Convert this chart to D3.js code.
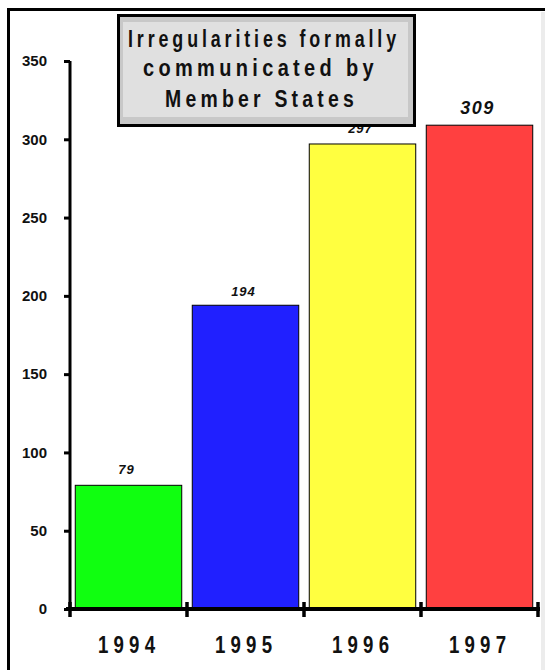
<!DOCTYPE html>
<html>
<head>
<meta charset="utf-8">
<script src="https://cdn.jsdelivr.net/npm/d3@7"></script>
<style>
  body { margin: 0; background: #fff; }
  svg { display: block; font-family: "Liberation Sans", Arial, sans-serif; }
</style>
</head>
<body>
<svg id="chart" width="545" height="670"></svg>
<script>
"use strict";

// chart data
var years = ["1994", "1995", "1996", "1997"];
var counts = [79, 194, 297, 309];
var barColors = ["#10ff10", "#2020ff", "#ffff40", "#ff4040"];
var yTicks = [0, 50, 100, 150, 200, 250, 300, 350];
var titleLines = ["Irregularities formally", "communicated by", "Member States"];

var svg = d3.select("#chart");

// outer frame (only top and left are dark)
svg.append("rect")
    .attr("x", 541).attr("y", 12).attr("width", 4).attr("height", 658)
    .attr("fill", "#ececec");
svg.append("path")
    .attr("d", "M8.5,670 V9.5 H545")
    .attr("fill", "none")
    .attr("stroke", "#000")
    .attr("stroke-width", 3);

var x = d3.scaleBand()
    .domain(years)
    .range([70, 538])
    .paddingInner(0.09)
    .paddingOuter(0.045);

var y = d3.scaleLinear()
    .domain([0, 350])
    .range([609, 61]);

// bars
svg.append("g")
    .selectAll("rect")
    .data(counts)
    .enter()
    .append("rect")
    .attr("x", function (d, i) { return x(years[i]); })
    .attr("y", function (d) { return y(d); })
    .attr("width", x.bandwidth())
    .attr("height", function (d) { return y(0) - y(d); })
    .attr("fill", function (d, i) { return barColors[i]; })
    .attr("stroke", "#000")
    .attr("stroke-width", 1);

// value labels
svg.append("g")
    .selectAll("text")
    .data(counts)
    .enter()
    .append("text")
    .attr("x", function (d, i) { return x(years[i]) + x.bandwidth() / 2 - 2; })
    .attr("y", function (d, i) { return y(d) - (i == 1 ? 9 : 11); })
    .attr("text-anchor", "middle")
    .attr("font-style", "italic")
    .attr("font-weight", "bold")
    .attr("font-size", function (d, i) { return i == 3 ? 18 : 13; })
    .attr("letter-spacing", function (d, i) { return i == 3 ? 1.5 : 1; })
    .attr("fill", "#111")
    .text(function (d) { return d; });

// y axis
var yAxis = svg.append("g")
    .attr("transform", "translate(70,0)")
    .call(d3.axisLeft(y).tickValues(yTicks).tickSize(6).tickPadding(17));
yAxis.select(".domain").attr("stroke-width", 3).attr("d", "M0,609V61");
yAxis.selectAll(".tick line").attr("stroke-width", 3);
yAxis.selectAll(".tick text")
    .attr("font-size", 15)
    .attr("font-weight", "bold")
    .attr("font-family", "Liberation Sans, Arial, sans-serif")
    .attr("fill", "#111");

// x axis: ticks at category boundaries
var boundaries = years.map(function (d) { return x(d) - x.step() * x.paddingInner() / 2; });
boundaries.push(538);
var xAxis = svg.append("g");
xAxis.append("line")
    .attr("x1", 66).attr("x2", 540)
    .attr("y1", 609).attr("y2", 609)
    .attr("stroke", "#000").attr("stroke-width", 4);
xAxis.selectAll(".xtick")
    .data(boundaries)
    .enter()
    .append("line")
    .attr("class", "xtick")
    .attr("x1", function (d) { return d; })
    .attr("x2", function (d) { return d; })
    .attr("y1", 602).attr("y2", 617)
    .attr("stroke", "#000").attr("stroke-width", 3.5);
xAxis.selectAll(".xlabel")
    .data(years)
    .enter()
    .append("text")
    .attr("class", "xlabel")
    .attr("x", function (d) { return x(d) + x.bandwidth() / 2 - 2; })
    .attr("y", 653)
    .attr("text-anchor", "middle")
    .attr("font-size", 23)
    .attr("font-weight", "bold")
    .attr("textLength", 57)
    .attr("lengthAdjust", "spacingAndGlyphs")
    .attr("fill", "#111")
    .text(function (d) { return d.split("").join(" "); });

// title box
var tb = svg.append("g");
tb.append("rect")
    .attr("x", 118.5).attr("y", 15.5).attr("width", 296).attr("height", 110)
    .attr("fill", "#c8c8c8").attr("stroke", "#000").attr("stroke-width", 3);
tb.append("rect")
    .attr("x", 123).attr("y", 22).attr("width", 285).attr("height", 95)
    .attr("fill", "#e0e0e0");
var titleX = [128, 143, 165];
var titleW = [272, 235, 193];
var titleY = [47, 76, 107];
tb.selectAll("text")
    .data(titleLines)
    .enter()
    .append("text")
    .attr("x", function (d, i) { return titleX[i]; })
    .attr("y", function (d, i) { return titleY[i]; })
    .attr("font-size", 23)
    .attr("font-weight", "bold")
    .attr("letter-spacing", 5)
    .attr("textLength", function (d, i) { return titleW[i]; })
    .attr("lengthAdjust", "spacingAndGlyphs")
    .attr("fill", "#111")
    .text(function (d) { return d; });
</script>
</body>
</html>
